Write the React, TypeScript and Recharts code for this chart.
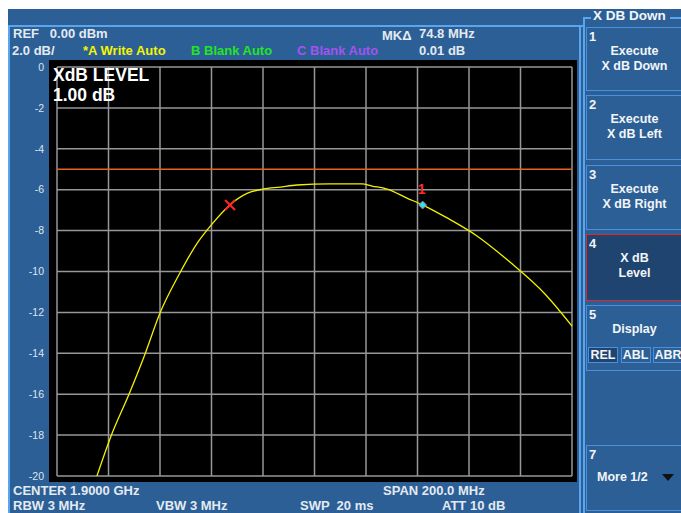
import React from "react";
import {
  LineChart,
  Line,
  XAxis,
  YAxis,
  CartesianGrid,
  ReferenceLine,
  ReferenceDot,
} from "recharts";

// trace (frequency in MHz, level in dB)
const freqMHz = [
  1815.5, 1821, 1828, 1834.2, 1840, 1847.4, 1854.4, 1860.6, 1866.8, 1873.8,
  1880, 1886.6, 1893.2, 1906, 1918.4, 1922.3, 1928.2, 1935.9, 1942.1, 1951.5,
  1963.1, 1975.9, 1989.5, 2000,
];
const levelDb = [
  -20, -18.04, -15.99, -14.03, -12.03, -10.15, -8.62, -7.62, -6.78, -6.18,
  -5.97, -5.87, -5.77, -5.72, -5.72, -5.82, -5.97, -6.41, -6.75, -7.38, -8.26,
  -9.54, -11.1, -12.67,
];

const freqTicks = [1800, 1820, 1840, 1860, 1880, 1900, 1920, 1940, 1960, 1980, 2000];
const dbTicks = [0, -2, -4, -6, -8, -10, -12, -14, -16, -18, -20];

const xdbLine = -5;
const markerX = { freq: 1867.2, db: -6.75 };
const marker1 = { freq: 1942.0, db: -6.75 };

const data = freqMHz.map((f, i) => ({ f, db: levelDb[i] }));

const BLUE = "#2c5f95";
const LIGHT = "#5aa6ee";
const TXT = "#e4eaf2";

const XMark = (props: any) => {
  const { cx, cy } = props;
  return (
    <g stroke="#ff2626" strokeWidth={2}>
      <line x1={cx - 5} y1={cy - 5} x2={cx + 5} y2={cy + 5} />
      <line x1={cx - 5} y1={cy + 5} x2={cx + 5} y2={cy - 5} />
    </g>
  );
};

const DiamondMark = (props: any) => {
  const { cx, cy } = props;
  return (
    <g>
      <polygon
        points={`${cx},${cy - 4} ${cx + 4},${cy} ${cx},${cy + 4} ${cx - 4},${cy}`}
        fill="#30e0f0"
        stroke="#c06080"
        strokeWidth={0.8}
      />
      <text x={cx - 1} y={cy - 11} fill="#ff2a2a" fontSize={14} fontWeight="bold" textAnchor="middle">
        1
      </text>
    </g>
  );
};

const txt = (left: number, top: number, s: string, color = TXT, size = 13, extra: any = {}) => (
  <div
    style={{
      position: "absolute",
      left,
      top,
      color,
      fontSize: size,
      lineHeight: `${size}px`,
      fontWeight: "bold",
      whiteSpace: "pre",
      ...extra,
    }}
  >
    {s}
  </div>
);

const Key = ({ top, height, num, lines, active }: any) => (
  <div
    style={{
      position: "absolute",
      left: 586,
      top,
      width: 100,
      height,
      boxSizing: "border-box",
      border: `1.5px solid ${active ? "#e02a2a" : "#4a90dc"}`,
      background: active ? "#1f4470" : BLUE,
      color: "#f2f5f8",
      fontWeight: "bold",
    }}
  >
    <div style={{ position: "absolute", left: 2, top: 1, fontSize: 13 }}>{num}</div>
    {lines.map((l: string, i: number) => (
      <div
        key={i}
        style={{
          position: "absolute",
          left: 0,
          width: 95,
          top: 16 + i * 15,
          textAlign: "center",
          fontSize: 12.5,
        }}
      >
        {l}
      </div>
    ))}
  </div>
);

export default function App() {
  return (
    <div
      style={{
        position: "absolute",
        left: 0,
        top: 0,
        width: 681,
        height: 513,
        background: "#fff",
        overflow: "hidden",
        fontFamily: "'Liberation Sans', Arial, sans-serif",
      }}
    >
      <div style={{ position: "absolute", left: 8, top: 9, right: 0, bottom: 0, background: BLUE }} />
      <div style={{ position: "absolute", left: 8, top: 25, width: 575, height: 2, background: LIGHT }} />
      <div style={{ position: "absolute", left: 8, top: 25, width: 2, bottom: 0, background: LIGHT }} />
      <div style={{ position: "absolute", left: 579, top: 25, width: 2, bottom: 0, background: LIGHT }} />
      <div style={{ position: "absolute", left: 583, top: 17, width: 2, bottom: 0, background: LIGHT }} />
      <div style={{ position: "absolute", left: 583, top: 17, width: 8, height: 2, background: LIGHT }} />
      <div style={{ position: "absolute", left: 670, top: 17, width: 11, height: 2, background: LIGHT }} />
      <div style={{ position: "absolute", left: 49, top: 60, width: 528, height: 422, background: "#000" }} />

      <div style={{ position: "absolute", left: 0, top: 0 }}>
        <LineChart width={681} height={513} data={data} margin={{ top: 67, right: 109, bottom: 37, left: 0 }}>
          <CartesianGrid stroke="#979797" strokeWidth={1.5} />
          <XAxis
            dataKey="f"
            type="number"
            domain={[1800, 2000]}
            ticks={freqTicks}
            height={0}
            axisLine={false}
            tickLine={false}
            tick={{ fill: "none", fontSize: 1 }}
          />
          <YAxis
            type="number"
            domain={[-20, 0]}
            ticks={dbTicks}
            width={57}
            axisLine={false}
            tickLine={false}
            tickSize={0}
            tickMargin={13}
            allowDataOverflow
            tick={{ fill: "#dfe5ee", fontSize: 10.5, fontFamily: "'Liberation Sans', Arial, sans-serif" }}
          />
          <ReferenceLine y={xdbLine} stroke="#e8621e" strokeWidth={1.5} />
          <Line
            dataKey="db"
            type="monotone"
            stroke="#f2f200"
            strokeWidth={1.3}
            dot={false}
            isAnimationActive={false}
          />
          <ReferenceDot x={markerX.freq} y={markerX.db} shape={XMark} />
          <ReferenceDot x={marker1.freq} y={marker1.db} shape={DiamondMark} />
        </LineChart>
      </div>

      {txt(53, 67, "XdB LEVEL", "#ffffff", 17.5)}
      {txt(53, 87, "1.00 dB", "#ffffff", 17.5)}

      {txt(13, 27, "REF   0.00 dBm")}
      {txt(12, 44, "2.0 dB/")}
      {txt(83, 44, "*A Write Auto", "#f4f400")}
      {txt(191, 44, "B Blank Auto", "#22e622")}
      {txt(297, 44, "C Blank Auto", "#a453f0")}
      {txt(382, 29, "MK\u0394")}
      {txt(419, 27, "74.8 MHz")}
      {txt(419, 44, "0.01 dB")}

      {txt(13, 484, "CENTER 1.9000 GHz")}
      {txt(383, 484, "SPAN 200.0 MHz")}
      {txt(13, 499, "RBW 3 MHz")}
      {txt(156, 499, "VBW 3 MHz")}
      {txt(300, 499, "SWP  20 ms")}
      {txt(442, 499, "ATT 10 dB")}

      {txt(593, 9, "X DB Down", "#f2f5f8", 13.5)}
      <Key top={27} height={64} num="1" lines={["Execute", "X dB Down"]} />
      <Key top={95} height={65} num="2" lines={["Execute", "X dB Left"]} />
      <Key top={165} height={65} num="3" lines={["Execute", "X dB Right"]} />
      <Key top={234} height={67} num="4" lines={["X dB", "Level"]} active />
      <Key top={305} height={66} num="5" lines={["Display"]} />
      <Key top={445} height={66} num="7" lines={[]} />
      {["REL", "ABL", "ABR"].map((s, i) => (
        <div
          key={s}
          style={{
            position: "absolute",
            left: 588 + i * 32.5,
            top: 347,
            width: 30,
            height: 16,
            boxSizing: "border-box",
            border: "1px solid #4a90dc",
            background: i === 0 ? "#1f4470" : BLUE,
            color: "#f2f5f8",
            fontWeight: "bold",
            fontSize: 12.5,
            lineHeight: "14px",
            textAlign: "center",
          }}
        >
          {s}
        </div>
      ))}
      {txt(597, 471, "More 1/2", "#f2f5f8", 12.5)}
      <div
        style={{
          position: "absolute",
          left: 662,
          top: 474,
          width: 0,
          height: 0,
          borderLeft: "6px solid transparent",
          borderRight: "6px solid transparent",
          borderTop: "7px solid #111",
        }}
      />
    </div>
  );
}
